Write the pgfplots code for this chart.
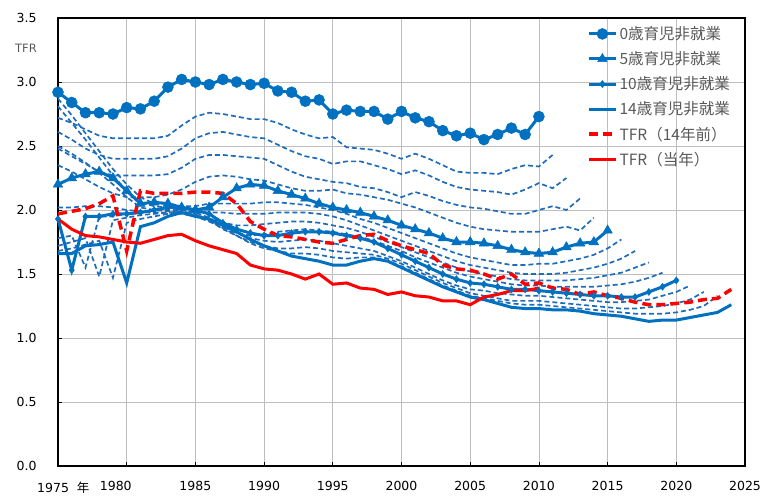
\documentclass[border=0pt]{standalone}
\usepackage{fontspec}
\setmainfont{DejaVu Sans}
\newfontfamily\jp{Noto Sans CJK JP}
\usepackage{pgfplots}
\pgfplotsset{compat=1.18}
\usepackage{pgfplotstable}
\definecolor{myblue}{RGB}{0,112,192}
\definecolor{dblue}{RGB}{30,108,186}
\definecolor{myred}{RGB}{255,0,0}
\definecolor{gridc}{RGB}{190,190,190}
\definecolor{legtext}{RGB}{89,89,89}

\pgfplotstableread{
yr c0 d1 d2 d3 d4 t5 d6 d7 d8 d9 m10 d11 d12 d13 s14 r14 r0
1975 2.92 2.72 2.61 2.48 2.35 2.20 2.87 2.81 2.50 2.02 1.93 1.78 1.72 1.68 1.66 1.97 1.93
1976 2.84 2.68 2.55 2.42 2.30 2.25 2.74 2.68 2.44 2.02 1.53 1.80 1.75 1.70 1.66 1.99 1.85
1977 2.76 2.63 2.48 2.36 2.24 2.28 2.60 2.55 2.37 2.03 1.95 1.55 1.78 1.73 1.72 2.01 1.80
1978 2.76 2.58 2.43 2.30 2.18 2.30 2.46 2.41 2.29 2.03 1.95 1.95 1.48 1.76 1.73 2.05 1.79
1979 2.75 2.56 2.40 2.27 2.13 2.25 2.32 2.27 2.20 2.02 1.97 1.95 1.92 1.47 1.75 2.11 1.77
1980 2.80 2.56 2.40 2.27 2.10 2.15 2.20 2.15 2.10 2.00 1.97 1.97 1.94 1.90 1.43 1.68 1.75
1981 2.79 2.56 2.40 2.27 2.10 2.05 2.10 2.06 2.02 1.99 1.98 1.98 1.96 1.93 1.87 2.15 1.74
1982 2.85 2.56 2.40 2.27 2.10 2.06 2.05 2.03 2.00 1.98 2.00 2.00 1.97 1.95 1.90 2.13 1.77
1983 2.96 2.58 2.42 2.28 2.12 2.05 2.05 2.02 1.99 1.98 2.02 2.00 1.98 1.97 1.95 2.13 1.80
1984 3.02 2.66 2.48 2.33 2.16 2.02 2.03 2.00 1.98 1.97 2.02 2.00 1.99 1.98 1.98 2.13 1.81
1985 3.00 2.73 2.56 2.40 2.22 2.00 2.03 1.98 1.96 1.95 2.00 1.98 1.97 1.96 1.95 2.14 1.76
1986 2.98 2.76 2.60 2.43 2.26 2.02 2.05 1.98 1.93 1.91 1.97 1.94 1.92 1.92 1.93 2.14 1.72
1987 3.02 2.75 2.61 2.43 2.27 2.10 2.05 1.98 1.90 1.86 1.90 1.88 1.86 1.85 1.88 2.13 1.69
1988 3.00 2.73 2.59 2.42 2.26 2.17 2.05 1.97 1.88 1.82 1.85 1.82 1.80 1.80 1.83 2.05 1.66
1989 2.98 2.71 2.57 2.41 2.24 2.20 2.05 1.97 1.88 1.80 1.82 1.78 1.75 1.74 1.77 1.91 1.57
1990 2.99 2.71 2.56 2.40 2.23 2.19 2.06 1.97 1.89 1.81 1.80 1.76 1.72 1.70 1.72 1.85 1.54
1991 2.93 2.68 2.51 2.35 2.20 2.15 2.06 1.98 1.90 1.83 1.80 1.75 1.70 1.68 1.68 1.80 1.53
1992 2.92 2.63 2.46 2.30 2.17 2.12 2.05 1.98 1.91 1.84 1.82 1.76 1.70 1.66 1.64 1.79 1.50
1993 2.85 2.59 2.42 2.26 2.15 2.09 2.04 1.98 1.91 1.85 1.83 1.77 1.71 1.66 1.62 1.77 1.46
1994 2.86 2.56 2.40 2.24 2.15 2.05 2.02 1.97 1.90 1.84 1.83 1.76 1.70 1.65 1.60 1.75 1.50
1995 2.75 2.57 2.36 2.22 2.16 2.02 2.00 1.95 1.88 1.83 1.82 1.74 1.68 1.63 1.57 1.74 1.42
1996 2.78 2.49 2.38 2.21 2.13 2.00 1.97 1.92 1.86 1.81 1.80 1.72 1.67 1.62 1.57 1.77 1.43
1997 2.77 2.48 2.38 2.18 2.12 1.98 1.93 1.88 1.83 1.79 1.78 1.70 1.66 1.63 1.60 1.80 1.39
1998 2.77 2.47 2.35 2.17 2.10 1.95 1.90 1.84 1.79 1.76 1.75 1.68 1.65 1.63 1.62 1.81 1.38
1999 2.71 2.44 2.32 2.14 2.08 1.92 1.86 1.80 1.75 1.72 1.70 1.64 1.62 1.60 1.60 1.76 1.34
2000 2.77 2.40 2.28 2.10 2.05 1.88 1.82 1.76 1.71 1.68 1.65 1.60 1.58 1.56 1.55 1.72 1.36
2001 2.72 2.44 2.31 2.14 2.02 1.85 1.78 1.72 1.67 1.63 1.60 1.55 1.53 1.51 1.50 1.69 1.33
2002 2.69 2.40 2.27 2.11 1.98 1.82 1.74 1.68 1.63 1.59 1.55 1.50 1.48 1.46 1.45 1.66 1.32
2003 2.62 2.35 2.22 2.07 1.94 1.78 1.70 1.64 1.59 1.55 1.50 1.45 1.43 1.41 1.40 1.57 1.29
2004 2.58 2.30 2.18 2.04 1.90 1.75 1.66 1.60 1.55 1.51 1.46 1.41 1.39 1.37 1.36 1.54 1.29
2005 2.60 2.29 2.16 2.02 1.87 1.75 1.63 1.57 1.52 1.48 1.43 1.38 1.35 1.33 1.32 1.53 1.26
2006 2.55 2.29 2.15 2.01 1.85 1.74 1.61 1.55 1.50 1.46 1.42 1.37 1.33 1.31 1.30 1.50 1.32
2007 2.59 2.28 2.14 1.99 1.84 1.72 1.59 1.53 1.48 1.44 1.40 1.35 1.31 1.29 1.27 1.46 1.34
2008 2.64 2.32 2.12 1.97 1.83 1.69 1.57 1.51 1.46 1.42 1.38 1.34 1.29 1.27 1.24 1.50 1.37
2009 2.59 2.35 2.16 1.97 1.83 1.67 1.57 1.50 1.45 1.41 1.38 1.33 1.29 1.26 1.23 1.42 1.37
2010 2.73 2.34 2.21 2.00 1.83 1.66 1.58 1.50 1.45 1.41 1.37 1.33 1.29 1.26 1.23 1.43 1.39
2011 nan 2.43 2.17 2.03 1.85 1.67 1.58 1.50 1.45 1.40 1.36 1.32 1.28 1.25 1.22 1.39 nan
2012 nan nan 2.25 2.00 1.87 1.71 1.60 1.51 1.45 1.40 1.35 1.31 1.27 1.24 1.22 1.38 nan
2013 nan nan nan 2.09 1.84 1.74 1.62 1.53 1.46 1.40 1.34 1.30 1.26 1.23 1.21 1.34 nan
2014 nan nan nan nan 1.94 1.75 1.65 1.55 1.47 1.40 1.33 1.29 1.25 1.22 1.19 1.36 nan
2015 nan nan nan nan nan 1.84 1.70 1.58 1.49 1.41 1.33 1.28 1.24 1.21 1.18 1.33 nan
2016 nan nan nan nan nan nan 1.77 1.62 1.51 1.42 1.32 1.28 1.23 1.20 1.17 1.31 nan
2017 nan nan nan nan nan nan nan 1.68 1.55 1.44 1.32 1.29 1.23 1.19 1.15 1.28 nan
2018 nan nan nan nan nan nan nan nan 1.59 1.47 1.36 1.30 1.24 1.19 1.13 1.26 nan
2019 nan nan nan nan nan nan nan nan nan 1.51 1.40 1.33 1.25 1.19 1.14 1.26 nan
2020 nan nan nan nan nan nan nan nan nan nan 1.45 1.36 1.27 1.20 1.14 1.27 nan
2021 nan nan nan nan nan nan nan nan nan nan nan 1.41 1.30 1.22 1.16 1.28 nan
2022 nan nan nan nan nan nan nan nan nan nan nan nan 1.36 1.25 1.18 1.30 nan
2023 nan nan nan nan nan nan nan nan nan nan nan nan nan 1.33 1.20 1.31 nan
2024 nan nan nan nan nan nan nan nan nan nan nan nan nan nan 1.26 1.38 nan
}\data

\begin{document}
\begin{tikzpicture}
\begin{axis}[
  scale only axis, width=687pt, height=448pt,
  xmin=1975, xmax=2025, ymin=0, ymax=3.5,
  xtick={1975,1980,...,2025},
  ytick={0,0.5,1,1.5,2,2.5,3,3.5},
  xticklabels={{\makebox[0pt][r]{1975\hspace{-11pt}}\makebox[0pt][l]{\hspace{19pt}{\jp 年}}},{\makebox[0pt][r]{1980\hspace{-5pt}}},1985,1990,1995,2000,2005,2010,2015,2020,2025},
  yticklabels={0.0,0.5,1.0,1.5,2.0,2.5,3.0,3.5},
  grid=major, major grid style={gridc, line width=0.8pt},
  axis line style={black, line width=1.1pt},
  tick align=inside, major tick length=4pt, tick style={black, line width=0.8pt},
  xtick pos=bottom, ytick pos=left,
  tick label style={font=\fontsize{12.5}{14}\selectfont, text=black},
  xticklabel style={yshift=-12pt},
  yticklabel style={xshift=-18pt},
  clip=false,
  unbounded coords=jump,
  legend cell align=left,
  legend style={at={(0.767,0.99)}, anchor=north west, draw=none, fill=none,
    font=\fontsize{15.5}{17}\selectfont\jp, text=legtext, row sep=6.5pt,
    inner xsep=2pt, inner ysep=2pt},
  legend image code/.code={\draw[mark repeat=2,mark phase=2,#1] plot coordinates {(0pt,0pt) (13.5pt,0pt) (27pt,0pt)};},
  dash1/.style={dblue, line width=1.7pt, dash pattern=on 5pt off 3pt, forget plot},
]
\addplot[dash1] table[x=yr, y=d1] {\data};
\addplot[dash1] table[x=yr, y=d2] {\data};
\addplot[dash1] table[x=yr, y=d3] {\data};
\addplot[dash1] table[x=yr, y=d4] {\data};
\addplot[dash1] table[x=yr, y=d6] {\data};
\addplot[dash1] table[x=yr, y=d7] {\data};
\addplot[dash1] table[x=yr, y=d8] {\data};
\addplot[dash1] table[x=yr, y=d9] {\data};
\addplot[dash1] table[x=yr, y=d11] {\data};
\addplot[dash1] table[x=yr, y=d12] {\data};
\addplot[dash1] table[x=yr, y=d13] {\data};
\addplot[myblue, line width=3pt, mark=*, mark size=5.5pt, mark options={solid, line width=0.5pt}] table[x=yr, y=c0] {\data};
\addlegendentry{0歳育児非就業}
\addplot[myblue, line width=3pt, mark=triangle*, mark size=5.5pt, mark options={solid, line width=0.5pt}] table[x=yr, y=t5] {\data};
\addlegendentry{5歳育児非就業}
\addplot[myblue, line width=3pt, mark=diamond*, mark size=3.5pt, mark options={solid, line width=0.5pt}] table[x=yr, y=m10] {\data};
\addlegendentry{10歳育児非就業}
\addplot[myblue, line width=3pt] table[x=yr, y=s14] {\data};
\addlegendentry{14歳育児非就業}
\addplot[myred, line width=3.5pt, dash pattern=on 9pt off 5pt] table[x=yr, y=r14] {\data};
\addlegendentry{TFR（14年前）}
\addplot[myred, line width=3pt] table[x=yr, y=r0] {\data};
\addlegendentry{TFR（当年）}
\node[text=legtext, font=\fontsize{11.5}{13}\selectfont] at (axis cs:1972.67,3.266) {TFR};
\coordinate (sw) at (rel axis cs:0,0);
\coordinate (ne) at (rel axis cs:1,1);
\end{axis}
\pgfresetboundingbox
\path[use as bounding box] ([shift={(-58pt,-33pt)}]sw) rectangle ([shift={(18pt,18pt)}]ne);
\end{tikzpicture}
\end{document}
